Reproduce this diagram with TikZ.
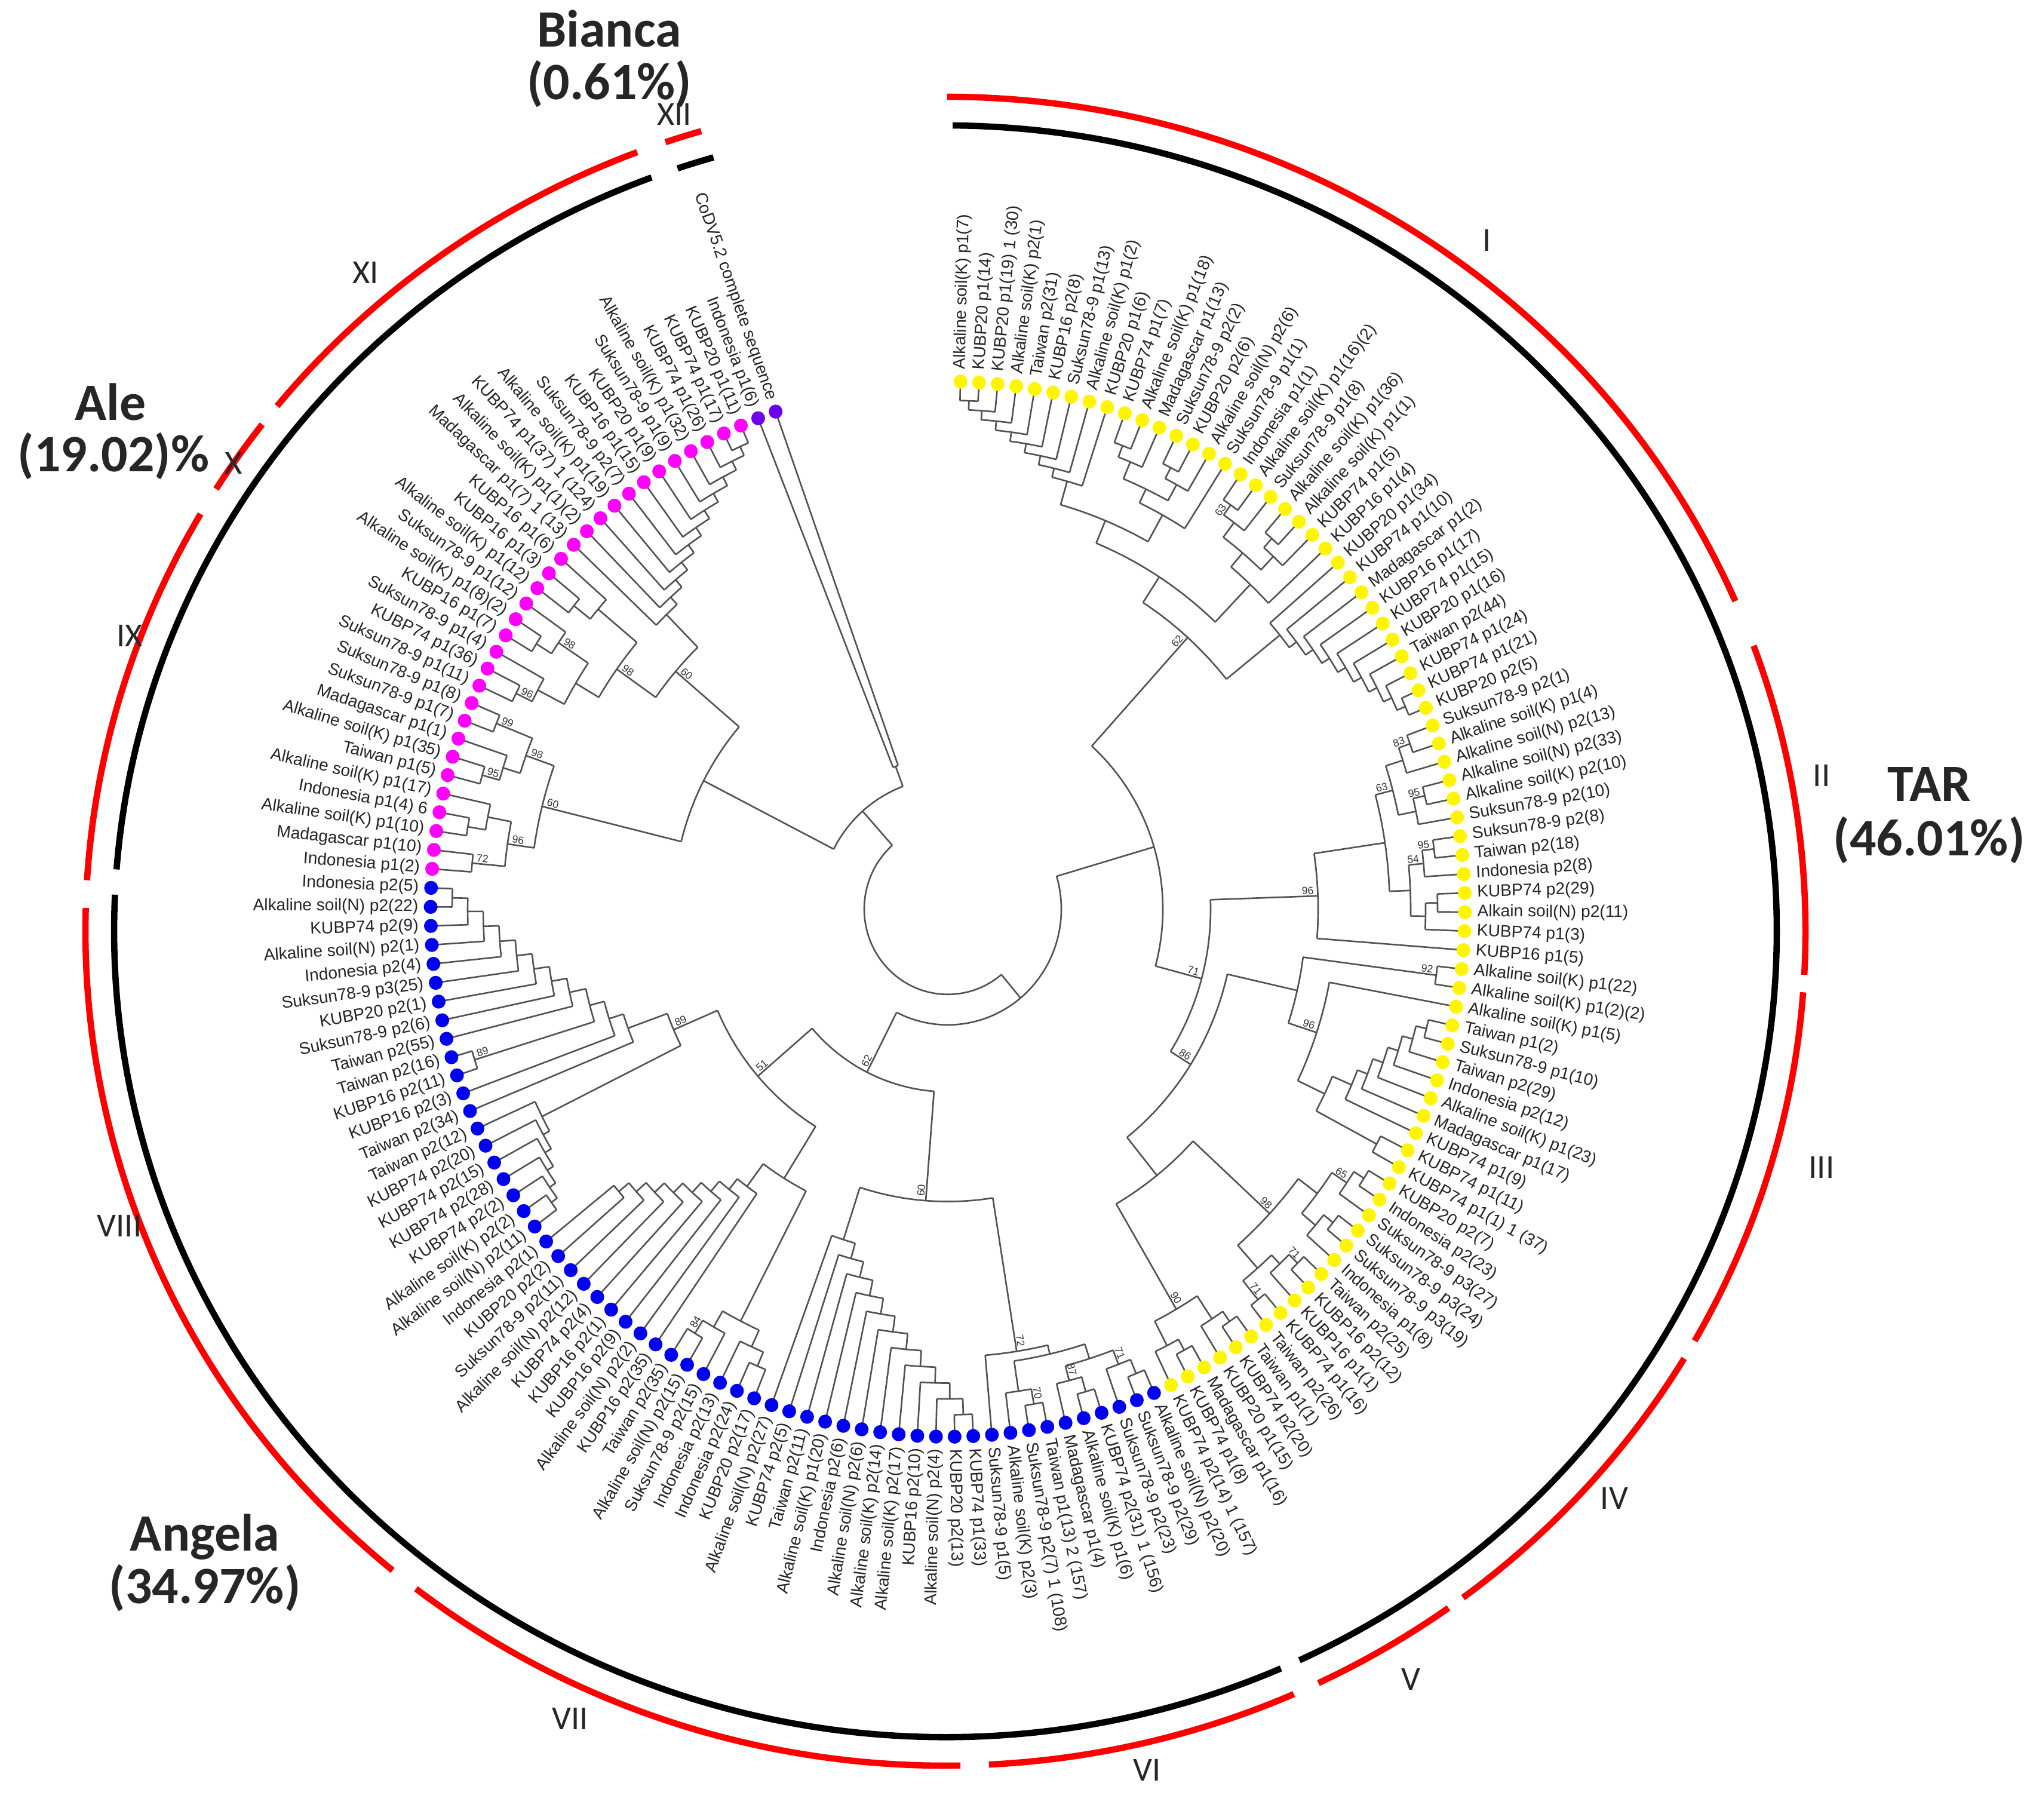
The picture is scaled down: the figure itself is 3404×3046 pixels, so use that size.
\documentclass[tikz,border=0pt]{standalone}
\usepackage{fontspec}
\setmainfont{Liberation Sans}
\newfontfamily\calib{Carlito}
\definecolor{dotY}{RGB}{255,245,0}
\definecolor{dotB}{RGB}{0,0,240}
\definecolor{dotM}{RGB}{255,0,255}
\definecolor{dotV}{RGB}{110,0,235}
\makeatletter
\newcommand\N[3]{%
  \gdef\N@min{10000}\gdef\N@max{-10000}%
  \foreach \nc in {#3}{%
    \pgfmathsetmacro\N@a{\csname ang@\nc\endcsname}%
    \pgfmathsetmacro\N@r{\csname rad@\nc\endcsname}%
    \draw[tree] (\N@a:\N@r) -- (\N@a:#2);%
    \pgfmathsetmacro\N@t{min(\N@min,\N@a)}\xdef\N@min{\N@t}%
    \pgfmathsetmacro\N@t{max(\N@max,\N@a)}\xdef\N@max{\N@t}%
  }%
  \draw[tree] (\N@min:#2) arc[start angle=\N@min, end angle=\N@max, radius=#2];%
  \pgfmathsetmacro\N@t{(\N@min+\N@max)/2}%
  \expandafter\xdef\csname ang@#1\endcsname{\N@t}%
  \expandafter\xdef\csname rad@#1\endcsname{#2}%
}
\newcommand\ladderlo[5]{%
  \pgfmathtruncatemacro\LDb{#2+1}%
  \N{#1-0}{#4}{L#2,L\LDb}%
  \pgfmathtruncatemacro\LDK{#3-#2-1}%
  \foreach \k in {1,...,\LDK}{%
    \pgfmathtruncatemacro\LDp{\k-1}%
    \pgfmathtruncatemacro\LDl{#2+\k+1}%
    \pgfmathsetmacro\LDr{#4-#5*\k}%
    \N{#1-\k}{\LDr}{#1-\LDp,L\LDl}%
  }%
  \expandafter\xdef\csname ang@#1\endcsname{\csname ang@#1-\LDK\endcsname}%
  \expandafter\xdef\csname rad@#1\endcsname{\csname rad@#1-\LDK\endcsname}%
}
\newcommand\ladderhi[5]{%
  \pgfmathtruncatemacro\LDb{#3-1}%
  \N{#1-0}{#4}{L\LDb,L#3}%
  \pgfmathtruncatemacro\LDK{#3-#2-1}%
  \foreach \k in {1,...,\LDK}{%
    \pgfmathtruncatemacro\LDp{\k-1}%
    \pgfmathtruncatemacro\LDl{#3-\k-1}%
    \pgfmathsetmacro\LDr{#4-#5*\k}%
    \N{#1-\k}{\LDr}{L\LDl,#1-\LDp}%
  }%
  \expandafter\xdef\csname ang@#1\endcsname{\csname ang@#1-\LDK\endcsname}%
  \expandafter\xdef\csname rad@#1\endcsname{\csname rad@#1-\LDK\endcsname}%
}
\newcommand\B[2]{%
  \pgfmathsetmacro\Ba{\csname ang@#1\endcsname}%
  \pgfmathsetmacro\Br{\csname rad@#1\endcsname-4}%
  \pgfmathsetmacro\Bc{cos(\Ba)}%
  \ifdim\Bc pt<0pt
    \node[boot,anchor=south west,rotate=\Ba+180] (bs#1) at (\Ba:\Br) {#2};%
  \else
    \node[boot,anchor=south east,rotate=\Ba] (bs#1) at (\Ba:\Br) {#2};%
  \fi}
\makeatother
\foreach \i in {0,...,164}{%
  \pgfmathsetmacro\LA{88.6-2.068*\i}%
  \expandafter\xdef\csname ang@L\i\endcsname{\LA}%
  \expandafter\xdef\csname rad@L\i\endcsname{856}%
}
\begin{document}
\begin{tikzpicture}[x=0.01cm,y=0.01cm,
  tree/.style={draw=black!68, line width=0.75pt},
  lab/.style={font=\fontsize{8}{9}\selectfont, text=black!85, inner sep=0pt},
  boot/.style={font=\fontsize{5}{6}\selectfont, text=black!80, inner sep=0.6pt},
  blk/.style={draw=black, line width=3pt},
  redr/.style={draw=red, line width=3pt},
  big/.style={font=\calib\bfseries\fontsize{25}{30}\selectfont, text=black!85, inner sep=0pt},
  num/.style={font=\calib\fontsize{16}{19}\selectfont, text=black!85, inner sep=0pt}]
\fill[white] (0,0) rectangle (3404,3046);
\useasboundingbox (0,0) rectangle (3404,3046);

\begin{scope}[shift={(1587,1524)}, yscale=1.02]
% ---------------- TAR ----------------
\ladderlo{c}{0}{8}{835}{15}
\N{g9}{815}{L9,L10}
\N{g10}{795}{g9,L11}
\N{g11}{815}{L12,L13}
\N{g12}{795}{g11,L14}
\N{g13}{765}{g10,g12}
\N{g14}{740}{g13,L15}
\N{c8}{690}{c,g14}
\N{g16}{815}{L16,L17}
\N{g17}{795}{g16,L18}
\N{g18}{815}{L19,L20}
\N{g19}{795}{g18,L21}
\N{g20}{765}{g17,g19}
\N{g21}{735}{g20,L22}
\N{c9}{650}{c8,g21}
\ladderhi{r}{23}{32}{835}{15}
\N{nI}{600}{c9,r}
\N{h1}{820}{L33,L34}
\N{h2}{800}{h1,L35}
\N{h3}{820}{L36,L37}
\N{h4}{800}{h3,L38}
\N{h5}{770}{h2,h4}
\N{h6}{820}{L39,L40}
\N{h7}{800}{h6,L41}
\N{h8}{820}{L42,L43}
\N{h9}{800}{h8,L44}
\N{h10}{775}{h7,h9}
\N{h11}{740}{h5,h10}
\N{nII}{620}{h11,L45}
\N{i1}{825}{L46,L47}
\ladderlo{i}{49}{55}{825}{18}
\N{i8}{815}{L56,L57}
\N{i9}{700}{i,i8}
\N{i10}{650}{L48,i9}
\N{nIII}{600}{i1,i10}
\N{j1}{825}{L58,L59}
\N{j2}{805}{j1,L60}
\N{j3}{825}{L61,L62}
\N{j4}{805}{j3,L63}
\N{j5}{775}{j2,j4}
\N{j6}{825}{L64,L65}
\N{j7}{805}{j6,L66}
\N{j8}{825}{L67,L68}
\N{j9}{785}{j7,j8}
\N{nIV}{735}{j5,j9}
\N{k1}{825}{L69,L70}
\N{k2}{805}{k1,L71}
\N{k3}{825}{L72,L73}
\N{k4}{805}{k3,L74}
\N{nV}{760}{k2,k4}
\N{nIVV}{560}{nIV,nV}
\N{nIIIV}{480}{nIII,nIVV}
\N{nIIV}{440}{nII,nIIIV}
\N{nTAR}{360}{nI,nIIV}
% ---------------- Angela ----------------
\N{p1}{825}{L75,L76}
\N{p2}{800}{p1,L77}
\N{p3}{825}{L78,L79}
\N{p4}{800}{p3,L80}
\N{p5}{775}{p2,p4}
\N{p6}{825}{L81,L82}
\N{p7}{800}{p6,L83}
\N{p8}{750}{p5,p7}
\N{pA}{735}{p8,L84}
\ladderlo{q}{85}{96}{830}{26}
\N{an1}{480}{pA,q}
\N{s1}{815}{L97,L98}
\N{s2}{790}{s1,L99}
\N{s3}{815}{L101,L102}
\N{s4}{790}{L100,s3}
\N{s5}{760}{s2,s4}
\ladderhi{t}{103}{111}{720}{22}
\N{A3}{520}{s5,t}
\ladderlo{u}{112}{118}{820}{12}
\N{v1}{830}{L121,L122}
\ladderhi{w}{123}{131}{830}{26}
\N{w2}{620}{v1,w}
\N{w3}{595}{L120,w2}
\N{w4}{570}{L119,w3}
\N{an2}{500}{u,w4}
\N{an3}{420}{A3,an2}
\N{nAng}{300}{an1,an3}
\N{nTA}{190}{nTAR,nAng}
% ---------------- Ale ----------------
\N{a1}{800}{L132,L133}
\N{a2}{815}{L134,L135}
\N{a3}{785}{a2,L136}
\N{a4}{745}{a1,a3}
\N{a5}{810}{L137,L138}
\N{a6}{780}{a5,L139}
\N{a7}{815}{L140,L141}
\N{a8}{750}{a6,a7}
\N{a9}{700}{a4,a8}
\N{a10}{805}{L142,L143}
\N{a11}{775}{a10,L144}
\N{a12}{815}{L145,L146}
\N{a13}{785}{a12,L147}
\N{a14}{725}{a11,a13}
\N{a15}{800}{L148,L149}
\N{a16}{765}{a15,L150}
\N{a17}{680}{a14,a16}
\ladderhi{b}{151}{162}{835}{16}
\N{a19}{600}{a17,b}
\N{nAle}{460}{a9,a19}
% ---------------- Bianca & root ----------------
\N{nBi}{250}{L163,L164}
\N{nBA}{215}{nAle,nBi}
\N{root}{140}{nTA,nBA}

% ---------------- leaves ----------------
\foreach \lbl [count=\i from 0] in {
Alkaline soil(K) p1(7),KUBP20 p1(14),KUBP20 p1(19) 1 (30),Alkaline soil(K) p2(1),Taiwan p2(31),
KUBP16 p2(8),Suksun78-9 p1(13),Alkaline soil(K) p1(2),KUBP20 p1(6),KUBP74 p1(7),
Alkaline soil(K) p1(18),Madagascar p1(13),Suksun78-9 p2(2),KUBP20 p2(6),Alkaline soil(N) p2(6),
Suksun78-9 p1(1),Indonesia p1(1),Alkaline soil(K) p1(16)(2),Suksun78-9 p1(8),Alkaline soil(K) p1(36),
Alkaline soil(K) p1(1),KUBP74 p1(5),KUBP16 p1(4),KUBP20 p1(34),KUBP74 p1(10),
Madagascar p1(2),KUBP16 p1(17),KUBP74 p1(15),KUBP20 p1(16),Taiwan p2(44),
KUBP74 p1(24),KUBP74 p1(21),KUBP20 p2(5),Suksun78-9 p2(1),Alkaline soil(K) p1(4),
Alkaline soil(N) p2(13),Alkaline soil(N) p2(33),Alkaline soil(K) p2(10),Suksun78-9 p2(10),Suksun78-9 p2(8),
Taiwan p2(18),Indonesia p2(8),KUBP74 p2(29),Alkain soil(N) p2(11),KUBP74 p1(3),
KUBP16 p1(5),Alkaline soil(K) p1(22),Alkaline soil(K) p1(2)(2),Alkaline soil(K) p1(5),Taiwan p1(2),
Suksun78-9 p1(10),Taiwan p2(29),Indonesia p2(12),Alkaline soil(K) p1(23),Madagascar p1(17),
KUBP74 p1(9),KUBP74 p1(11),KUBP74 p1(1) 1 (37),KUBP20 p2(7),Indonesia p2(23),
Suksun78-9 p3(27),Suksun78-9 p3(24),Suksun78-9 p3(19),Indonesia p1(8),Taiwan p2(25),
KUBP16 p2(12),KUBP16 p1(1),KUBP74 p1(16),Taiwan p2(26),Taiwan p1(1),
KUBP74 p2(20),KUBP20 p1(15),Madagascar p1(16),KUBP74 p1(8),KUBP74 p2(14) 1 (157),
Alkaline soil(N) p2(20),Suksun78-9 p2(29),Suksun78-9 p2(23),KUBP74 p2(31) 1 (156),Alkaline soil(K) p1(6),
Madagascar p1(4),Taiwan p1(13) 2 (157),Suksun78-9 p2(7) 1 (108),Alkaline soil(K) p2(3),Suksun78-9 p1(5),
KUBP74 p1(33),KUBP20 p2(13),Alkaline soil(N) p2(4),KUBP16 p2(10),Alkaline soil(K) p2(17),
Alkaline soil(K) p2(14),Alkaline soil(N) p2(6),Indonesia p2(6),Alkaline soil(K) p1(20),Taiwan p2(11),
KUBP74 p2(5),Alkaline soil(N) p2(27),KUBP20 p2(17),Indonesia p2(24),Indonesia p2(13),
Suksun78-9 p2(15),Alkaline soil(N) p2(15),Taiwan p2(35),KUBP16 p2(35),Alkaline soil(N) p2(2),
KUBP16 p2(9),KUBP16 p2(1),KUBP74 p2(4),Alkaline soil(N) p2(12),Suksun78-9 p2(11),
KUBP20 p2(2),Indonesia p2(1),Alkaline soil(N) p2(11),Alkaline soil(K) p2(2),KUBP74 p2(2),
KUBP74 p2(28),KUBP74 p2(15),KUBP74 p2(20),Taiwan p2(12),Taiwan p2(34),
KUBP16 p2(3),KUBP16 p2(11),Taiwan p2(16),Taiwan p2(55),Suksun78-9 p2(6),
KUBP20 p2(1),Suksun78-9 p3(25),Indonesia p2(4),Alkaline soil(N) p2(1),KUBP74 p2(9),
Alkaline soil(N) p2(22),Indonesia p2(5),
Indonesia p1(2),Madagascar p1(10),Alkaline soil(K) p1(10),Indonesia p1(4) 6,Alkaline soil(K) p1(17),
Taiwan p1(5),Alkaline soil(K) p1(35),Madagascar p1(1),Suksun78-9 p1(7),Suksun78-9 p1(8),
Suksun78-9 p1(11),KUBP74 p1(36),Suksun78-9 p1(4),KUBP16 p1(7),Alkaline soil(K) p1(8)(2),
Suksun78-9 p1(12),Alkaline soil(K) p1(12),KUBP16 p1(3),KUBP16 p1(6),Madagascar p1(7) 1 (13),
Alkaline soil(K) p1(1)(2),KUBP74 p1(37) 1 (124),Alkaline soil(K) p1(19),Suksun78-9 p2(7),KUBP16 p1(15),
KUBP20 p1(9),Suksun78-9 p1(9),Alkaline soil(K) p1(32),KUBP74 p1(26),KUBP74 p1(17),
KUBP20 p1(11),
Indonesia p1(6),CoDV5.2 complete sequence}{%
  \pgfmathsetmacro\LA{88.6-2.068*\i}%
  \ifnum\i<75 \def\col{dotY}\else\ifnum\i<132 \def\col{dotB}\else\ifnum\i<163 \def\col{dotM}\else\def\col{dotV}\fi\fi\fi
  \fill[\col] (\LA:866) circle[radius=11.5];
  \pgfmathsetmacro\ca{cos(\LA)}%
  \ifdim\ca pt<0pt
    \node[lab,anchor=east,rotate=\LA+180] (lab\i) at (\LA:886) {\lbl};
  \else
    \node[lab,anchor=west,rotate=\LA] (lab\i) at (\LA:886) {\lbl};
  \fi
}
% ---------------- bootstrap ----------------
\B{nI}{62}\B{g16}{63}\B{nIIV}{71}\B{nIIIV}{86}\B{h1}{83}\B{h3}{95}\B{h5}{63}
\B{h6}{95}\B{h7}{54}\B{nII}{96}\B{i1}{92}\B{i10}{96}\B{j2}{65}\B{j6}{71}
\B{j8}{71}\B{nIV}{98}\B{nV}{90}
\B{pA}{72}\B{p2}{71}\B{p4}{87}\B{p6}{70}\B{s3}{84}\B{v1}{89}\B{an1}{60}
\B{an2}{89}\B{an3}{51}\B{nAng}{62}
\B{a1}{72}\B{a4}{96}\B{a5}{95}\B{a7}{99}\B{a8}{98}\B{a9}{60}\B{a10}{96}
\B{a13}{98}\B{a17}{98}\B{a19}{60}
\end{scope}

% ---------------- rings ----------------
\begin{scope}[shift={(1583,1487)}]
\foreach \s/\e in {89.5/-64.8,-66.2/-182.6,-184.4/-249.3,-251.2/-253.8}
  \draw[blk] (\s:1392 and 1349) arc[start angle=\s, end angle=\e, x radius=1392, y radius=1349];
\foreach \s/\e in {89.9/23.3,20/-3,-4.2/-29.4,-30.8/-53,-54.2/-64.3,-66.1/-87.1,-89/-128,-130/-181.6,-183.5/-210,-212/-217.4,-219/-249,-251/-253.5}
  \draw[redr] (\s:1440 and 1397) arc[start angle=\s, end angle=\e, x radius=1440, y radius=1397];
\end{scope}

% ---------------- clade labels ----------------
\node[big] (bianca) at (1020,2998) {Bianca};
\node[big] (biancap) at (1020,2905) {(0.61\%)};
\node[big] (ale) at (185,2373) {Ale};
\node[big] (alep) at (190,2282) {(19.02)\%};
\node[big] (angela) at (343,473) {Angela};
\node[big] (angelap) at (343,387) {(34.97\%)};
\node[big] (tar) at (3230,1733) {TAR};
\node[big] (tarp) at (3230,1639) {(46.01\%)};
\node[num] (nXII) at (1129,2855) {XII};
\node[num] (nXI) at (612,2590) {XI};
\node[num] (nX) at (391,2271) {X};
\node[num] (nIX) at (217,1982) {IX};
\node[num] (nVIII) at (200,994) {VIII};
\node[num] (nVII) at (955,169) {VII};
\node[num] (nVI) at (1921,83) {VI};
\node[num] (nV) at (2362,235) {V};
\node[num] (nIVl) at (2703,538) {IV};
\node[num] (nIII) at (3050,1092) {III};
\node[num] (nII) at (3050,1748) {II};
\node[num] (nIl) at (2490,2644) {I};
\end{tikzpicture}
\end{document}
